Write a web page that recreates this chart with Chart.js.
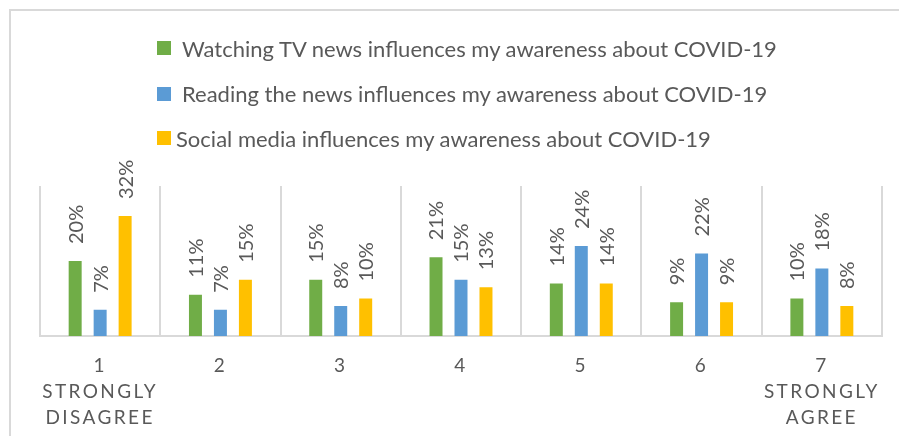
<!DOCTYPE html>
<html><head><meta charset="utf-8">
<script src="https://cdn.jsdelivr.net/npm/chart.js@4/dist/chart.umd.min.js"></script>
<style>
html,body{margin:0;padding:0;background:#fff;}
#wrap{position:relative;width:899px;height:436px;overflow:hidden;background:#fff;}
#frame{position:absolute;left:9px;top:9px;width:1000px;height:1000px;border-top:2px solid #d9d9d9;border-left:2px solid #d9d9d9;}
canvas{position:absolute;left:0;top:0;}
#legend{position:absolute;left:0;top:0;font-family:Lato,sans-serif;font-size:22px;color:#595959;}
.item{position:absolute;left:157px;height:24px;display:flex;align-items:center;white-space:nowrap;}
.box{width:14px;height:14px;flex:none;}
</style></head>
<body><div id="wrap"><div id="frame"></div><canvas id="c" width="899" height="436"></canvas><div id="legend"></div></div>
<script>
const categories = ["1", "2", "3", "4", "5", "6", "7"];
const tickLabels = [["1", "STRONGLY", "DISAGREE"], ["2"], ["3"], ["4"], ["5"], ["6"], ["7", "STRONGLY", "AGREE"]];
const seriesNames = [
  "Watching TV news influences my awareness about COVID-19",
  "Reading the news influences my awareness about COVID-19",
  "Social media influences my awareness about COVID-19"
];
const tvNews = [20, 11, 15, 21, 14, 9, 10];
const readingNews = [7, 7, 8, 15, 24, 22, 18];
const socialMedia = [32, 15, 10, 13, 14, 9, 8];
const seriesColors = ["#70AD47", "#5B9BD5", "#FFC000"];

const seriesValues = [tvNews, readingNews, socialMedia];

const valueLabels = {
  id: 'valueLabels',
  afterDatasetsDraw(chart) {
    const ctx = chart.ctx;
    ctx.save();
    ctx.font = '20px Lato';
    ctx.fillStyle = '#595959';
    ctx.textAlign = 'left';
    ctx.textBaseline = 'middle';
    chart.data.datasets.forEach((ds, i) => {
      chart.getDatasetMeta(i).data.forEach((bar, j) => {
        ctx.save();
        ctx.translate(bar.x + 1, bar.y - 17);
        ctx.rotate(-Math.PI / 2);
        ctx.fillText(ds.data[j] + '%', 0, 0);
        ctx.restore();
      });
    });
    ctx.restore();
    ctx.letterSpacing = '2.4px';
  },
  afterDraw(chart) { chart.ctx.letterSpacing = '0px'; }
};

const chart = new Chart(document.getElementById('c'), {
  type: 'bar',
  data: {
    labels: tickLabels,
    datasets: seriesValues.map((vals, i) => ({
      label: seriesNames[i],
      data: vals,
      backgroundColor: seriesColors[i],
      categoryPercentage: 0.623,
      barPercentage: 0.52
    }))
  },
  options: {
    responsive: false,
    animation: false,
    events: [],
    layout: { padding: { left: 40, right: 17, top: 186, bottom: 0 } },
    plugins: { legend: { display: false }, tooltip: { enabled: false } },
    scales: {
      y: { display: false, min: 0, max: 40 },
      x: {
        grid: { color: '#d9d9d9', lineWidth: 2, drawTicks: false, offset: true },
        border: { color: '#d9d9d9', width: 2 },
        ticks: {
          z: 1, autoSkip: false, maxRotation: 0, minRotation: 0, padding: 17,
          color: '#595959', font: { family: 'Lato', size: 19, lineHeight: '25.8px' }
        },
        afterFit(scale) { scale.height = 100; }
      }
    }
  },
  plugins: [valueLabels]
});

const legendEl = document.getElementById('legend');
const legendY = [48, 93.5, 138];
const legendGap = [11, 11, 5];
chart.data.datasets.forEach((ds, i) => {
  const it = document.createElement('div');
  it.className = 'item';
  it.style.top = (legendY[i] - 12) + 'px';
  const b = document.createElement('span');
  b.className = 'box';
  b.style.background = ds.backgroundColor;
  b.style.marginRight = legendGap[i] + 'px';
  const t = document.createElement('span');
  t.textContent = ds.label;
  it.appendChild(b); it.appendChild(t);
  legendEl.appendChild(it);
});
</script>
</body></html>
